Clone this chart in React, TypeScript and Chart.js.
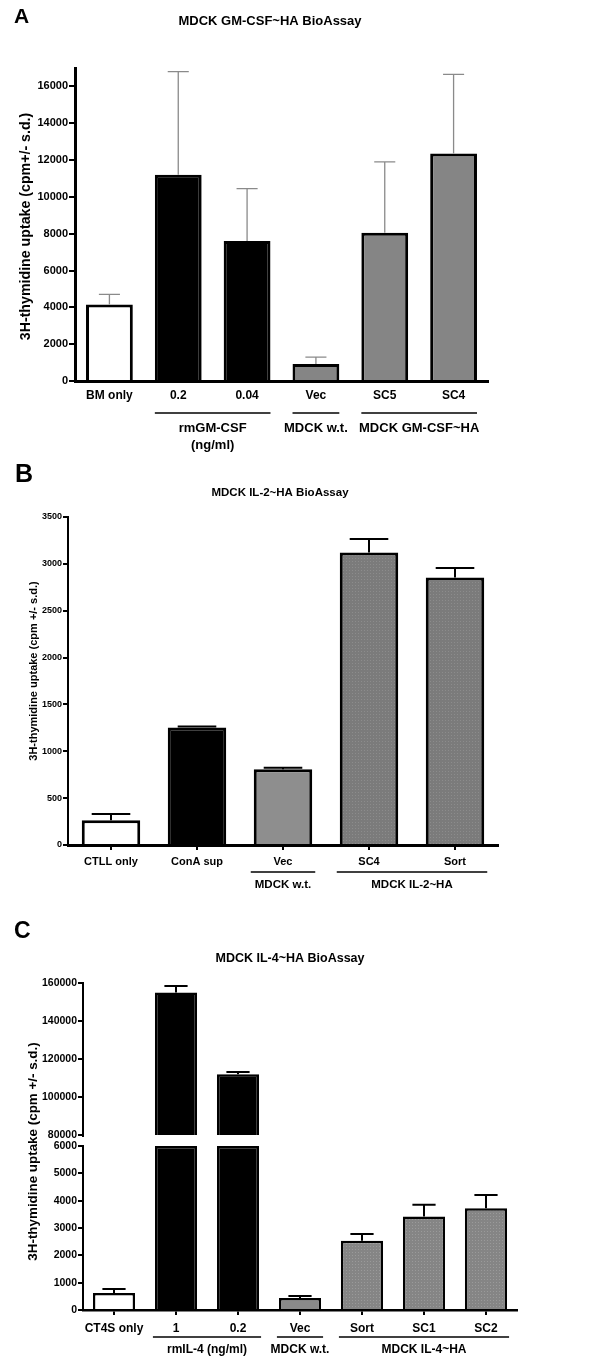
import React, { useEffect, useRef } from 'react';
import { Chart, registerables } from 'chart.js';

Chart.register(...registerables);

const FONT = '"Liberation Sans", Arial, Helvetica, sans-serif';

// ---------------- Panel A data ----------------
const aTitle = 'MDCK GM-CSF~HA BioAssay';
const aCategories = ['BM only', '0.2', '0.04', 'Vec', 'SC5', 'SC4'];
const aValues = [4150, 11200, 7600, 930, 8050, 12350];
const aErrors = [550, 5600, 2850, 370, 3850, 4300];
const aYTicks = [0, 2000, 4000, 6000, 8000, 10000, 12000, 14000, 16000];
const aYMax = 17000;
const aYLabel = '3H-thymidine uptake (cpm+/- s.d.)';
const aGroups = [
  { from: 1, to: 2, label: ['rmGM-CSF', '(ng/ml)'] },
  { from: 3, to: 3, label: ['MDCK w.t.'] },
  { from: 4, to: 5, label: ['MDCK GM-CSF~HA'] },
];

// ---------------- Panel B data ----------------
const bTitle = 'MDCK IL-2~HA BioAssay';
const bCategories = ['CTLL only', 'ConA sup', 'Vec', 'SC4', 'Sort'];
const bValues = [265, 1255, 808, 3120, 2855];
const bErrors = [65, 10, 17, 145, 100];
const bYTicks = [0, 500, 1000, 1500, 2000, 2500, 3000, 3500];
const bYLabel = '3H-thymidine uptake (cpm +/- s.d.)';
const bGroups = [
  { from: 2, to: 2, label: ['MDCK w.t.'] },
  { from: 3, to: 4, label: ['MDCK IL-2~HA'] },
];

// ---------------- Panel C data ----------------
const cTitle = 'MDCK IL-4~HA BioAssay';
const cCategories = ['CT4S only', '1', '0.2', 'Vec', 'Sort', 'SC1', 'SC2'];
const cValues = [620, 155000, 112000, 440, 2530, 3420, 3720];
const cErrors = [150, 3400, 1200, 70, 250, 430, 490];
const cLowTicks = [0, 1000, 2000, 3000, 4000, 5000, 6000];
const cHighTicks = [80000, 100000, 120000, 140000, 160000];
const cYLabel = '3H-thymidine uptake (cpm +/- s.d.)';
const cGroups = [
  { from: 1, to: 2, label: ['rmIL-4 (ng/ml)'] },
  { from: 3, to: 3, label: ['MDCK w.t.'] },
  { from: 4, to: 6, label: ['MDCK IL-4~HA'] },
];

// ---------------- helpers ----------------
function texture(base: string, dot: string): any {
  const c = document.createElement('canvas');
  c.width = 3;
  c.height = 3;
  const g = c.getContext('2d');
  if (!g) return base;
  g.fillStyle = base;
  g.fillRect(0, 0, 3, 3);
  g.fillStyle = dot;
  g.fillRect(1, 1, 1, 1);
  return g.createPattern(c, 'repeat') || base;
}

const bold = (size: number) => ({ family: FONT, size, weight: 'bold' as const });

function yAxis(o: any) {
  return {
    type: 'linear',
    position: 'left',
    min: o.min,
    max: o.max,
    afterFit: (s: any) => {
      s.width = o.width;
    },
    afterBuildTicks: (s: any) => {
      s.ticks = o.ticks.map((v: number) => ({ value: v }));
    },
    grid: {
      display: true,
      drawOnChartArea: false,
      drawTicks: true,
      tickLength: o.tickLength,
      color: '#000',
      lineWidth: o.tickWidth,
    },
    border: { display: true, color: '#000', width: o.borderWidth },
    ticks: {
      color: '#000',
      padding: o.pad,
      font: bold(o.fontSize),
      callback: (v: any) => String(v),
    },
  };
}

function xAxis(o: any) {
  return {
    type: 'category',
    position: 'bottom',
    offset: true,
    afterFit: (s: any) => {
      s.height = o.height;
    },
    grid: {
      display: o.drawTicks,
      drawOnChartArea: false,
      drawTicks: o.drawTicks,
      tickLength: o.tickLength || 0,
      offset: false,
      color: '#000',
      lineWidth: 2,
    },
    border: { display: true, color: '#000', width: o.borderWidth },
    ticks: {
      color: '#000',
      padding: o.pad,
      maxRotation: 0,
      autoSkip: false,
      font: bold(o.fontSize),
    },
  };
}

function makeDecor(d: any) {
  return {
    id: 'decor',
    afterDatasetsDraw(chart: any) {
      const ctx = chart.ctx;
      const xs = chart.scales.x;
      const meta = chart.getDatasetMeta(0);
      ctx.save();
      ctx.strokeStyle = d.errColor;
      ctx.lineWidth = d.errWidth;
      d.values.forEach((v: number, i: number) => {
        const e = d.errors[i];
        const sid = d.breakAt != null && v > d.breakAt ? 'yTop' : 'y';
        const ys = chart.scales[sid];
        const cx = xs.getPixelForValue(i);
        const bw = meta.data[i].width;
        const y0 = ys.getPixelForValue(v);
        const y1 = ys.getPixelForValue(v + e);
        const half = (bw * d.capRatio) / 2;
        ctx.beginPath();
        ctx.moveTo(cx, y0);
        ctx.lineTo(cx, y1);
        ctx.moveTo(cx - half, y1);
        ctx.lineTo(cx + half, y1);
        ctx.stroke();
      });
      ctx.restore();
    },
    afterDraw(chart: any) {
      const ctx = chart.ctx;
      const area = chart.chartArea;
      const xs = chart.scales.x;
      const meta = chart.getDatasetMeta(0);
      ctx.save();
      ctx.fillStyle = '#000';
      // panel letter
      ctx.font = `bold ${d.letterSize}px ${FONT}`;
      ctx.textAlign = 'left';
      ctx.textBaseline = 'alphabetic';
      ctx.fillText(d.letter, d.letterX, d.letterY);
      // title
      ctx.font = `bold ${d.titleSize}px ${FONT}`;
      ctx.textAlign = 'center';
      ctx.textBaseline = 'middle';
      ctx.fillText(d.title, d.titleX, d.titleY);
      // y label
      ctx.save();
      ctx.translate(d.yLabelX, (area.top + area.bottom) / 2 + (d.yLabelDy || 0));
      ctx.rotate(-Math.PI / 2);
      ctx.font = `bold ${d.yLabelSize}px ${FONT}`;
      ctx.fillText(d.yLabel, 0, 0);
      ctx.restore();
      // groups
      ctx.strokeStyle = '#000';
      ctx.lineWidth = d.groupLineWidth;
      ctx.font = `bold ${d.groupSize}px ${FONT}`;
      d.groups.forEach((g: any) => {
        const l = xs.getPixelForValue(g.from) - meta.data[g.from].width / 2 - d.groupExt;
        const r = xs.getPixelForValue(g.to) + meta.data[g.to].width / 2 + d.groupExt;
        const ly = area.bottom + d.groupLineDy;
        ctx.beginPath();
        ctx.moveTo(l, ly);
        ctx.lineTo(r, ly);
        ctx.stroke();
        g.label.forEach((t: string, k: number) => {
          ctx.fillText(t, (l + r) / 2, area.bottom + d.groupLabelDy + k * d.groupLH);
        });
      });
      // axis break
      if (d.breakAt != null) {
        const yt = chart.scales.yTop;
        const yl = chart.scales.y;
        const g0 = yt.getPixelForValue(d.breakAt) + 2;
        const g1 = yl.top - 1;
        ctx.fillStyle = '#fff';
        ctx.fillRect(area.left - 5, g0, 7, g1 - g0);
      }
      ctx.restore();
    },
  };
}

function buildA(): any {
  const gray = '#858585';
  return {
    type: 'bar',
    data: {
      labels: aCategories,
      datasets: [
        {
          data: aValues,
          backgroundColor: ['#ffffff', '#000000', '#000000', gray, gray, gray],
          borderColor: '#000',
          borderWidth: 3,
          barPercentage: 0.68,
          categoryPercentage: 1,
        },
      ],
    },
    options: {
      animation: false,
      responsive: false,
      devicePixelRatio: 1,
      layout: { padding: { top: 68, right: 112, bottom: 0, left: 0 } },
      plugins: { legend: { display: false }, tooltip: { enabled: false }, title: { display: false } },
      scales: {
        x: xAxis({ height: 74, drawTicks: false, fontSize: 12, pad: 7, borderWidth: 3 }),
        y: yAxis({ min: 0, max: aYMax, ticks: aYTicks, width: 75, tickLength: 6, tickWidth: 2, borderWidth: 3, pad: 1, fontSize: 11 }),
      },
    },
    plugins: [
      makeDecor({
        values: aValues,
        errors: aErrors,
        errColor: '#8a8a8a',
        errWidth: 1.3,
        capRatio: 0.45,
        letter: 'A',
        letterX: 14,
        letterY: 23,
        letterSize: 21,
        title: aTitle,
        titleX: 270,
        titleY: 21,
        titleSize: 13,
        yLabel: aYLabel,
        yLabelX: 26,
        yLabelDy: 2,
        yLabelSize: 14.2,
        groups: aGroups,
        groupSize: 13,
        groupLineWidth: 1.5,
        groupExt: 0,
        groupLineDy: 32,
        groupLabelDy: 47,
        groupLH: 17,
      }),
    ],
  };
}

function buildB(): any {
  const pat = texture('#7b7b7b', '#8c8c8c');
  return {
    type: 'bar',
    data: {
      labels: bCategories,
      datasets: [
        {
          data: bValues,
          backgroundColor: ['#ffffff', '#000000', '#8e8e8e', pat, pat],
          borderColor: '#000',
          borderWidth: 3,
          barPercentage: 0.68,
          categoryPercentage: 1,
        },
      ],
    },
    options: {
      animation: false,
      responsive: false,
      devicePixelRatio: 1,
      layout: { padding: { top: 62, right: 102, bottom: 0, left: 0 } },
      plugins: { legend: { display: false }, tooltip: { enabled: false }, title: { display: false } },
      scales: {
        x: xAxis({ height: 55, drawTicks: true, tickLength: 5, fontSize: 11, pad: 5, borderWidth: 3 }),
        y: yAxis({ min: 0, max: 3500, ticks: bYTicks, width: 68, tickLength: 5, tickWidth: 2, borderWidth: 2, pad: 1, fontSize: 9 }),
      },
    },
    plugins: [
      makeDecor({
        values: bValues,
        errors: bErrors,
        errColor: '#000',
        errWidth: 2,
        capRatio: 0.66,
        letter: 'B',
        letterX: 15,
        letterY: 27,
        letterSize: 25,
        title: bTitle,
        titleX: 280,
        titleY: 38,
        titleSize: 11.5,
        yLabel: bYLabel,
        yLabelX: 34,
        yLabelDy: -10,
        yLabelSize: 11,
        groups: bGroups,
        groupSize: 11.5,
        groupLineWidth: 1.5,
        groupExt: 3,
        groupLineDy: 27,
        groupLabelDy: 40,
        groupLH: 15,
      }),
    ],
  };
}

function buildC(): any {
  const pat = texture('#858585', '#9a9a9a');
  const lowMax = cLowTicks[cLowTicks.length - 1];
  const brk = cHighTicks[0];
  return {
    type: 'bar',
    data: {
      labels: cCategories,
      datasets: [
        {
          data: cValues.map((v) => Math.min(v, lowMax)),
          yAxisID: 'y',
          grouped: false,
          backgroundColor: ['#ffffff', '#000000', '#000000', '#8a8a8a', pat, pat, pat],
          borderColor: '#000',
          borderWidth: 2.5,
          barPercentage: 0.68,
          categoryPercentage: 1,
        },
        {
          data: cValues.map((v) => (v > brk ? [brk, v] : null)),
          yAxisID: 'yTop',
          grouped: false,
          backgroundColor: '#000000',
          borderColor: '#000',
          borderWidth: 2.5,
          barPercentage: 0.68,
          categoryPercentage: 1,
        },
      ],
    },
    options: {
      animation: false,
      responsive: false,
      devicePixelRatio: 1,
      layout: { padding: { top: 83, right: 83, bottom: 0, left: 0 } },
      plugins: { legend: { display: false }, tooltip: { enabled: false }, title: { display: false } },
      scales: {
        x: xAxis({ height: 62, drawTicks: true, tickLength: 5, fontSize: 12, pad: 6, borderWidth: 2.5 }),
        y: {
          ...yAxis({ min: 0, max: lowMax, ticks: cLowTicks, width: 83, tickLength: 5, tickWidth: 2, borderWidth: 2, pad: 1, fontSize: 10.5 }),
          stack: 'c',
          stackWeight: 164,
          weight: 1,
        },
        yTop: {
          ...yAxis({ min: 74200, max: 160000, ticks: cHighTicks, width: 83, tickLength: 5, tickWidth: 2, borderWidth: 2, pad: 1, fontSize: 10.5 }),
          stack: 'c',
          stackWeight: 163,
          weight: 2,
        },
      },
    },
    plugins: [
      makeDecor({
        values: cValues,
        errors: cErrors,
        breakAt: brk,
        errColor: '#000',
        errWidth: 2,
        capRatio: 0.55,
        letter: 'C',
        letterX: 14,
        letterY: 38,
        letterSize: 23,
        title: cTitle,
        titleX: 290,
        titleY: 59,
        titleSize: 12.5,
        yLabel: cYLabel,
        yLabelX: 33,
        yLabelDy: 5,
        yLabelSize: 13.4,
        groups: cGroups,
        groupSize: 12,
        groupLineWidth: 1.5,
        groupExt: 2,
        groupLineDy: 27,
        groupLabelDy: 40,
        groupLH: 15,
      }),
    ],
  };
}

function ChartCanvas({ top, height, build }: { top: number; height: number; build: () => any }) {
  const ref = useRef<HTMLCanvasElement>(null);
  useEffect(() => {
    if (!ref.current) return;
    const chart = new Chart(ref.current, build());
    return () => chart.destroy();
  }, []);
  return (
    <canvas
      ref={ref}
      width={600}
      height={height}
      style={{ position: 'absolute', left: 0, top, width: 600, height, display: 'block' }}
    />
  );
}

export default function App() {
  return (
    <div style={{ position: 'absolute', left: 0, top: 0, width: 600, height: 1372, background: '#fff' }}>
      <ChartCanvas top={0} height={455} build={buildA} />
      <ChartCanvas top={455} height={445} build={buildB} />
      <ChartCanvas top={900} height={472} build={buildC} />
    </div>
  );
}
